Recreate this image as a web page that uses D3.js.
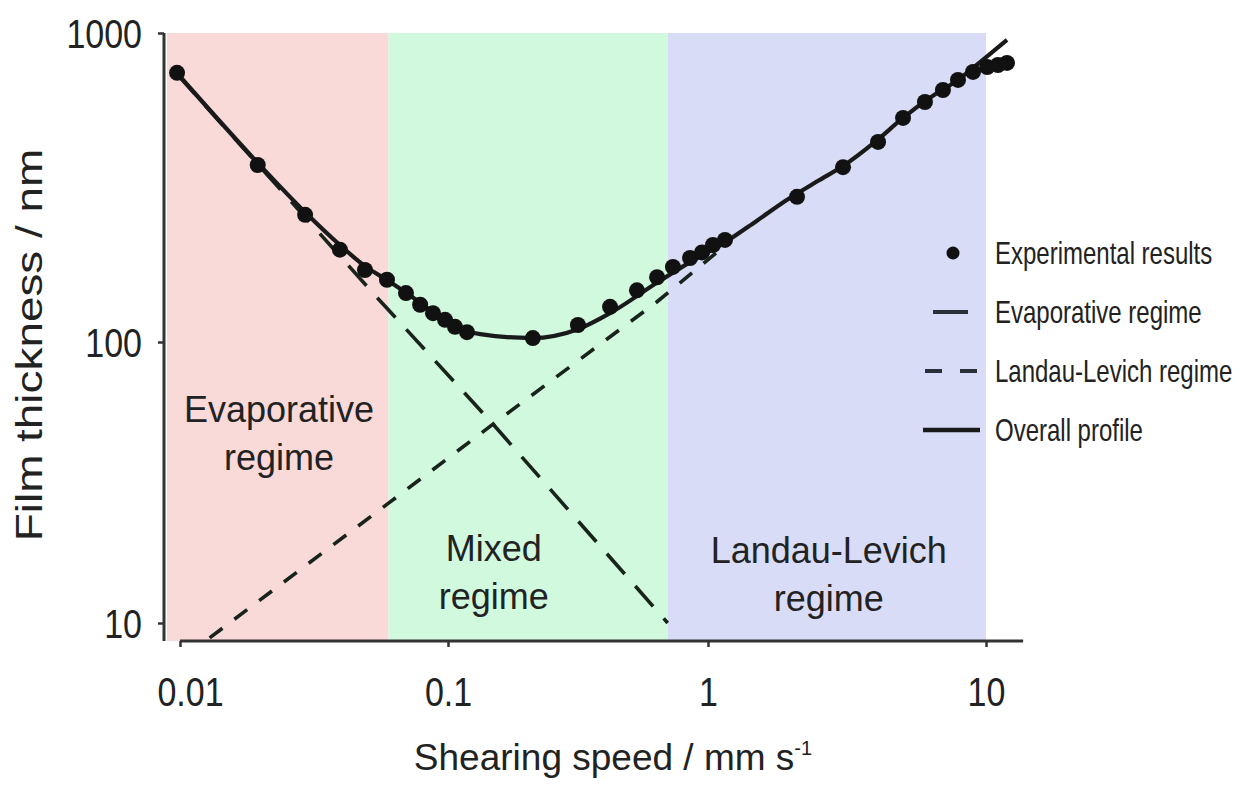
<!DOCTYPE html>
<html>
<head>
<meta charset="utf-8">
<script src="https://cdn.jsdelivr.net/npm/d3@7"></script>
<style>
  body { margin: 0; background: #fff; }
  text { font-family: "Liberation Sans", Arial, Helvetica, sans-serif; fill: #222; }
</style>
</head>
<body>
<svg id="chart" width="1257" height="785"></svg>
<script>
// ---- data (shearing speed in mm/s, film thickness in nm) ----
const xTickValues = [0.01, 0.1, 1, 10];
const xTickLabels = ["0.01", "0.1", "1", "10"];
const yTickValues = [10, 100, 1000];
const yTickLabels = ["10", "100", "1000"];

// regime boundaries on the speed axis
const regimeBounds = [[0.00894, 0.06], [0.06, 0.7], [0.7, 10]];
const regimeLabels = [["Evaporative", "regime"], ["Mixed", "regime"], ["Landau-Levich", "regime"]];

// experimental results
const expSpeed = [0.00975, 0.0195, 0.0293, 0.0395, 0.049, 0.0592, 0.0697, 0.0787, 0.0879, 0.0975,
  0.1064, 0.1183, 0.212, 0.316, 0.42, 0.533, 0.637, 0.733, 0.853, 0.948, 1.042, 1.151,
  2.09, 3.06, 4.09, 5.03, 6.03, 7.0, 7.93, 8.98, 10.1, 11.04, 11.9];
const expThickness = [743, 374, 258, 199, 171, 159, 144, 132, 124, 118,
  112, 107.6, 103, 113.5, 130, 147, 162, 175, 187, 195, 206, 214,
  295, 368, 444, 531, 598, 654, 705, 748, 776, 788, 800];

// evaporative regime fit
const evapSpeed = [0.0097, 0.0525, 0.149, 0.7];
const evapThickness = [740, 144, 51, 10];

// Landau-Levich regime fit
const llSpeed = [0.0129, 0.06, 0.149, 0.637, 1.15];
const llThickness = [8.85, 26.7, 51, 135, 205];

// overall profile
const profileSpeed = [0.0097, 0.0195, 0.0293, 0.0395, 0.049, 0.059, 0.07, 0.088, 0.106, 0.133,
  0.21, 0.316, 0.42, 0.64, 0.85, 1.15, 1.5, 1.92, 2.5, 3.06, 4.0, 5.03, 6.3, 7.93, 9.6, 11.9];
const profileThickness = [745, 380, 263, 206, 176, 159, 144, 125, 113, 106,
  103, 110, 124, 156, 181, 210, 247, 288, 333, 371, 445, 531, 618, 705, 810, 950];

const legendItems = ["Experimental results", "Evaporative regime", "Landau-Levich regime", "Overall profile"];

// ---- scales ----
const x = d3.scaleLog().domain([0.01, 0.1, 1, 10]).range([180, 448, 708, 986]);
const y = d3.scaleLog().domain([10, 100, 1000]).range([623, 342, 33]);
const xAxisEnd = 13.6;   // right end of the x axis line
const yFloor = 8.63;     // level of the x axis line

const svg = d3.select("#chart");
const bandColors = ["#f9dad8", "#d1f9de", "#d9dcf6"];
const ink = "#1a1a1a";

// regime bands
svg.append("g").selectAll("rect").data(regimeBounds).join("rect")
  .attr("x", d => x(d[0]))
  .attr("width", d => x(d[1]) - x(d[0]))
  .attr("y", y(1000))
  .attr("height", y(yFloor) - y(1000))
  .attr("fill", (d, i) => bandColors[i]);

// regime labels
const labelAt = [[0.0234, 52], [0.15, 16.6], [2.72, 16.4]];
const rl = svg.append("g").attr("font-size", 36).attr("text-anchor", "middle");
regimeLabels.forEach((lines, i) => {
  const t = rl.append("text")
    .attr("x", x(labelAt[i][0]))
    .attr("y", y(labelAt[i][1]));
  lines.forEach((s, j) => t.append("tspan")
    .attr("x", x(labelAt[i][0]))
    .attr("dy", j === 0 ? 0 : 48)
    .text(s));
});

// fitted lines
const line = d3.line().x(d => x(d[0])).y(d => y(d[1]));
const curve = d3.line().x(d => x(d[0])).y(d => y(d[1])).curve(d3.curveMonotoneX);

svg.append("path")
  .datum(evapSpeed.map((v, i) => [v, evapThickness[i]]))
  .attr("d", line).attr("fill", "none")
  .attr("stroke", "#18231b").attr("stroke-width", 3.6)
  .attr("stroke-dasharray", "27,16");

svg.append("path")
  .datum(llSpeed.map((v, i) => [v, llThickness[i]]))
  .attr("d", line).attr("fill", "none")
  .attr("stroke", "#18231b").attr("stroke-width", 3.6)
  .attr("stroke-dasharray", "16,15");

svg.append("path")
  .datum(profileSpeed.map((v, i) => [v, profileThickness[i]]))
  .attr("d", curve).attr("fill", "none")
  .attr("stroke", ink).attr("stroke-width", 4.2);

// experimental points
svg.append("g").selectAll("circle")
  .data(expSpeed.map((v, i) => [v, expThickness[i]]))
  .join("circle")
  .attr("cx", d => x(d[0])).attr("cy", d => y(d[1]))
  .attr("r", 8).attr("fill", "#111");

// ---- axes ----
const axisY = y(yFloor);
const xAxis = d3.axisBottom(x).tickValues(xTickValues)
  .tickFormat((d, i) => xTickLabels[i]).tickSize(6).tickPadding(24).tickSizeOuter(0);
const gx = svg.append("g").attr("transform", `translate(0,${axisY})`).call(xAxis);
gx.select(".domain").remove();
gx.append("line").attr("x1", x(0.01)).attr("x2", x(xAxisEnd))
  .attr("stroke", "#333").attr("stroke-width", 3);
gx.selectAll(".tick line").attr("stroke", "#333").attr("stroke-width", 2.5);
gx.selectAll(".tick text").attr("font-size", 34).attr("fill", "#222")
  .attr("font-family", "Liberation Sans, Arial, sans-serif")
  .attr("dx", (d, i) => i === 0 ? 10 : 0)
  .attr("transform", "scale(1,1.2)");

const yAxis = d3.axisLeft(y).tickValues(yTickValues)
  .tickFormat((d, i) => yTickLabels[i]).tickSize(6).tickPadding(16).tickSizeOuter(0);
const gy = svg.append("g").attr("transform", "translate(164,0)").call(yAxis);
gy.select(".domain").remove();
gy.append("line").attr("y1", y(1000)).attr("y2", axisY)
  .attr("stroke", "#333").attr("stroke-width", 3);
gy.selectAll(".tick line").attr("stroke", "#333").attr("stroke-width", 2.5);
gy.selectAll(".tick text").attr("font-size", 34).attr("fill", "#222")
  .attr("font-family", "Liberation Sans, Arial, sans-serif")
  .attr("dy", "0.35em")
  .attr("transform", "scale(1,1.2)");

// axis titles
const xt = svg.append("text").attr("x", 613).attr("y", 770)
  .attr("text-anchor", "middle").attr("font-size", 37);
xt.append("tspan").text("Shearing speed / mm s");
xt.append("tspan").attr("font-size", 20).attr("dy", -15).text("-1");

svg.append("text")
  .attr("transform", "translate(42,345) rotate(-90) scale(1.24,1)")
  .attr("text-anchor", "middle").attr("font-size", 37)
  .text("Film thickness / nm");

// ---- legend ----
const lg = svg.append("g").attr("transform", "translate(0,253)");
const rowGap = 59;
legendItems.forEach((name, i) => {
  const row = lg.append("g").attr("transform", `translate(0,${i * rowGap})`);
  row.append("text").attr("x", 995).attr("dy", "0.36em")
    .attr("font-size", 24).attr("transform", "scale(1,1.28)")
    .attr("transform-origin", "995 0")
    .text(name);
});
lg.append("circle").attr("cx", 953).attr("cy", 0).attr("r", 6.5).attr("fill", "#111");
lg.append("line").attr("x1", 933).attr("x2", 968).attr("y1", rowGap).attr("y2", rowGap)
  .attr("stroke", "#2a2f3a").attr("stroke-width", 4);
lg.append("line").attr("x1", 925).attr("x2", 977).attr("y1", rowGap * 2).attr("y2", rowGap * 2)
  .attr("stroke", "#2a2f3a").attr("stroke-width", 4).attr("stroke-dasharray", "17,18");
lg.append("line").attr("x1", 923).attr("x2", 980).attr("y1", rowGap * 3).attr("y2", rowGap * 3)
  .attr("stroke", "#1a1a1a").attr("stroke-width", 4.5);
</script>
</body>
</html>
